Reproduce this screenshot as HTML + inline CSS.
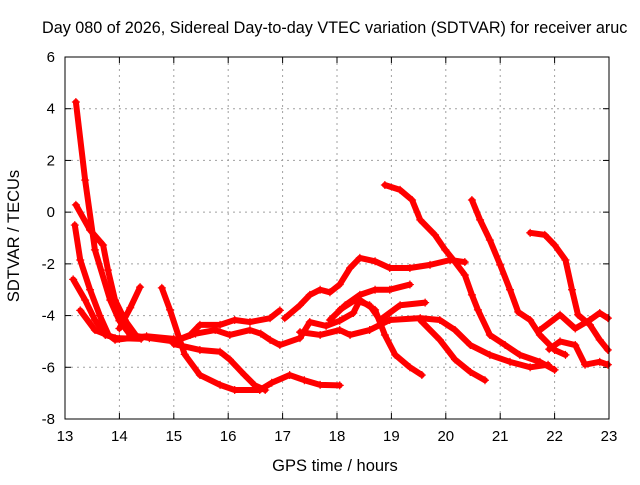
<!DOCTYPE html>
<html><head><meta charset="utf-8"><style>
body{margin:0;background:#fff;}
svg text{font-family:"Liberation Sans",sans-serif;font-size:15px;}
</style></head><body>
<svg id="chart" width="640" height="480" xmlns="http://www.w3.org/2000/svg">
<text x="42" y="33" style="font-size:16.2px">Day 080 of 2026, Sidereal Day-to-day VTEC variation (SDTVAR) for receiver aruc</text>
<g id="grid"></g>
<g id="ticks"></g>
<g id="marks"></g>
<rect x="65" y="57" width="544" height="362" fill="none" stroke="#000" stroke-width="1"/>
<text x="335" y="471" text-anchor="middle" style="font-size:16.5px">GPS time / hours</text>
<text x="19" y="236" text-anchor="middle" transform="rotate(-90 19 236)" style="font-size:16.5px">SDTVAR / TECUs</text>
</svg>
<script>
const xTicks=[13,14,15,16,17,18,19,20,21,22,23];
const yTicks=[-8,-6,-4,-2,0,2,4,6];
const trackA=[[13.2,4.26],[13.37,1.24],[13.55,-1.46],[13.83,-3.4],[14.0,-4.2],[14.2,-4.75],[14.55,-4.87],[15.0,-5.0]];
const trackB=[[13.2,0.28],[13.46,-0.69],[13.7,-1.27],[13.79,-2.24],[13.92,-3.4],[14.1,-4.17],[14.3,-4.75]];
const trackC=[[13.18,-0.5],[13.28,-1.85],[13.46,-3.0],[13.64,-4.0],[13.8,-4.75],[13.92,-4.94],[14.5,-4.8],[15.0,-4.9]];
const trackD=[[13.15,-2.6],[13.37,-3.4],[13.55,-4.17],[13.74,-4.75],[14.0,-4.9]];
const trackE=[[13.28,-3.8],[13.55,-4.56],[13.92,-4.87],[14.4,-4.9]];
const trackF=[[14.0,-4.5],[14.2,-3.7],[14.38,-2.9]];
const trackG=[[14.78,-2.93],[14.93,-3.78],[15.11,-4.94],[15.2,-5.5],[15.48,-6.3],[15.85,-6.68],[16.12,-6.88],[16.58,-6.88],[16.8,-6.6],[17.13,-6.3],[17.4,-6.5],[17.69,-6.68],[18.05,-6.7]];
const trackH=[[15.0,-5.1],[15.48,-5.33],[15.85,-5.4],[16.03,-5.7],[16.3,-6.3],[16.49,-6.7],[16.68,-6.88]];
const trackI=[[15.0,-5.0],[15.3,-4.75],[15.48,-4.36],[15.85,-4.36],[16.12,-4.17],[16.4,-4.25],[16.77,-4.1],[16.95,-3.8]];
const trackJ=[[17.04,-4.1],[17.32,-3.6],[17.5,-3.2],[17.69,-3.0],[17.87,-3.1],[18.05,-2.8],[18.24,-2.16],[18.42,-1.77],[18.7,-1.9],[18.97,-2.16],[19.34,-2.16],[19.71,-2.04],[20.08,-1.85],[20.35,-1.93]];
const trackK=[[15.0,-5.0],[15.4,-4.7],[15.76,-4.56],[16.03,-4.75],[16.4,-4.56],[16.6,-4.7],[16.77,-4.94],[16.95,-5.14],[17.32,-4.87],[17.5,-4.25],[17.8,-4.4],[18.05,-4.2],[18.3,-3.9],[18.42,-3.4],[18.7,-3.78],[18.88,-4.75],[19.07,-5.52],[19.34,-6.0],[19.56,-6.3]];
const trackL=[[17.32,-4.64],[17.69,-4.75],[18.05,-4.56],[18.24,-4.75],[18.6,-4.56],[18.97,-4.17],[19.53,-4.1],[19.89,-4.17],[20.17,-4.56],[20.45,-5.14],[20.81,-5.52],[21.18,-5.79],[21.55,-6.0],[21.88,-5.9]];
const trackM=[[17.87,-4.17],[18.15,-3.6],[18.42,-3.2],[18.7,-3.0],[18.97,-3.0],[19.34,-2.8]];
const trackN=[[18.05,-3.78],[18.33,-3.4],[18.6,-3.6],[18.79,-4.17],[19.16,-3.6],[19.62,-3.5]];
const trackO=[[19.53,-4.17],[19.89,-4.94],[20.17,-5.7],[20.45,-6.18],[20.72,-6.5]];
const trackP=[[18.88,1.05],[19.16,0.86],[19.38,0.47],[19.53,-0.3],[19.8,-0.88],[19.99,-1.46],[20.17,-1.93],[20.35,-2.43],[20.48,-3.2],[20.59,-3.78],[20.81,-4.75],[21.09,-5.14],[21.36,-5.52],[21.73,-5.79],[22.0,-6.1]];
const trackQ=[[20.48,0.47],[20.63,-0.3],[20.81,-1.08],[21.0,-2.04],[21.18,-3.0],[21.33,-3.86],[21.55,-4.17],[21.73,-4.75],[22.0,-5.33],[22.2,-5.52]];
const trackR=[[21.55,-0.8],[21.82,-0.88],[22.0,-1.27],[22.2,-1.85],[22.32,-3.0],[22.43,-3.97],[22.65,-4.36],[22.83,-4.94],[22.98,-5.33]];
const trackS=[[21.73,-4.56],[22.1,-3.97],[22.38,-4.5],[22.65,-4.17],[22.83,-3.9],[22.98,-4.1]];
const trackT=[[21.9,-5.3],[22.1,-5.0],[22.38,-5.14],[22.56,-5.9],[22.83,-5.79],[22.98,-5.9]];
const tracks=[trackA,trackB,trackC,trackD,trackE,trackF,trackG,trackH,trackI,trackJ,trackK,trackL,trackM,trackN,trackO,trackP,trackQ,trackR,trackS,trackT];

const X0=65,X1=609,Y0=419,Y1=57;
const xs=v=>X0+(v-13)/10*(X1-X0);
const ys=v=>Y0-(v+8)/14*(Y0-Y1);
const NS="http://www.w3.org/2000/svg";
const grid=document.getElementById('grid'),ticks=document.getElementById('ticks'),marks=document.getElementById('marks');
function mk(tag,attrs,parent){const e=document.createElementNS(NS,tag);for(const k in attrs)e.setAttribute(k,attrs[k]);parent.appendChild(e);return e;}
xTicks.forEach(t=>{const x=xs(t);
 if(t>13&&t<23){const l=mk('line',{x1:x,x2:x,y1:Y0,y2:Y1,stroke:'#a0a0a0','stroke-dasharray':'2,4'},grid);
 
 }
 mk('line',{x1:x,x2:x,y1:Y0,y2:Y0-6,stroke:'#000'},ticks);mk('line',{x1:x,x2:x,y1:Y1,y2:Y1+6,stroke:'#000'},ticks);
 const tx=mk('text',{x:x,y:Y0+22,'text-anchor':'middle'},ticks);tx.textContent=t;
 
 });
yTicks.forEach(t=>{const y=ys(t);
 if(t>-8&&t<6){const l=mk('line',{x1:X0,x2:X1,y1:y,y2:y,stroke:'#a0a0a0','stroke-dasharray':'2,4'},grid);
 
 }
 mk('line',{x1:X0,x2:X0+6,y1:y,y2:y,stroke:'#000'},ticks);mk('line',{x1:X1,x2:X1-6,y1:y,y2:y,stroke:'#000'},ticks);
 const tx=mk('text',{x:X0-10,y:y+5,'text-anchor':'end'},ticks);tx.textContent=t;
 
 });
tracks.forEach((tr,i)=>{
 const pts=tr.map(p=>xs(p[0])+','+ys(p[1])).join(' ');
 const pl=mk('polyline',{points:pts,fill:'none',stroke:'#ff0000','stroke-width':6,'stroke-linejoin':'round','stroke-linecap':'round'},marks);
 
 
 tr.forEach(p=>{const x=xs(p[0]),y=ys(p[1]);
  const m=mk('path',{d:`M${x-4},${y}H${x+4}M${x},${y-4}V${y+4}`,stroke:'#ff0000','stroke-width':1.2},marks);
  
  });
});
</script>
</body></html>
